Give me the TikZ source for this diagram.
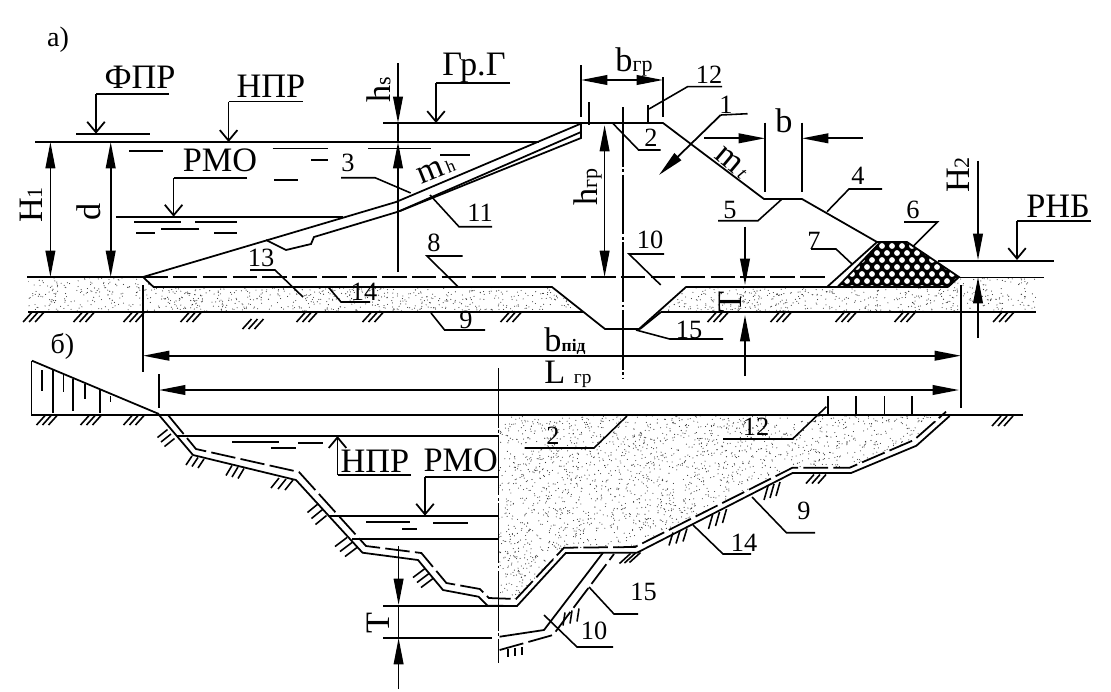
\documentclass[tikz,border=0pt]{standalone}
\usepackage{fontspec}
\setmainfont{Liberation Serif}
\usetikzlibrary{arrows.meta}
\newcommand{\bigtxt}{\fontsize{19.5}{19.5}\selectfont}
\newcommand{\numtxt}{\fontsize{15}{15}\selectfont}
\newcommand{\subtxt}{\fontsize{12.5}{12.5}\selectfont}
\tikzset{
  bodyline/.style={black,line width=1pt},
  thinline/.style={black,line width=0.9pt},
  dashline/.style={black,line width=1pt,dash pattern=on 14pt off 3pt},
  axisline/.style={black,line width=1pt,dash pattern=on 34pt off 1.5pt on 1.5pt off 1.5pt},
  hatchline/.style={black,line width=0.9pt},
  dimarrow/.style={black,line width=1pt,-{Triangle[length=15pt,width=5.5pt]}},
  dimboth/.style={black,line width=1pt,{Triangle[length=15pt,width=5.5pt]}-{Triangle[length=15pt,width=5.5pt]}},
  levelarrow/.style={black,line width=1pt,-{Straight Barb[length=6pt,width=10pt]}},
  bigtext/.style={inner sep=0pt,font=\bigtxt},
  numtext/.style={inner sep=0pt,font=\numtxt},
}
\begin{document}
\begin{tikzpicture}[x=0.02cm,y=0.02cm]
\useasboundingbox (0,0) rectangle (1111,-691);
% stipple of the soil
\begin{scope}
\clip (28,-277) -- (143,-277) -- (153.6,-287) -- (552,-287) -- (584,-312) -- (28,-312) -- cycle
      (686,-287) -- (661,-312) -- (1036,-312) -- (1036,-278) -- (959,-278) -- (948,-287) -- cycle
      (498.6,-415) -- (946,-415) -- (914,-440) -- (849.6,-468) -- (792.5,-468) -- (635,-547)
      -- (564,-548) -- (516,-599) -- (498.6,-599) -- cycle;
\pgfmathsetseed{7}
\foreach \i in {1,...,1800}
  \fill [black!80] ({28+1008*rnd},{-277-35*rnd}) circle (0.55);
\foreach \i in {1,...,3800}
  \fill [black!80] ({498+450*rnd},{-415-185*rnd}) circle (0.55);
\end{scope}
% stone toe
\begin{scope}
\clip (878.6,-243) -- (907,-243) -- (959,-277) -- (948,-287) -- (837.5,-287) -- cycle;
\fill [black] (830,-240) rectangle (965,-290);
\foreach \r in {0,...,6}
  \foreach \c in {0,...,13}
    \fill [white] ({832+\c*10+5*mod(\r,2)},{-246-\r*7}) circle (2.9);
\end{scope}
% a) section
\draw [bodyline] (27,-277) -- (143,-277);
\draw [dashline] (143,-277) -- (827,-277);
\draw [bodyline] (959,-277.5) -- (1044,-277.5);
\draw [bodyline] (28,-312) -- (584,-312);
\draw [bodyline] (661,-312) -- (1036,-312);
\draw [bodyline] (143,-277) -- (153.6,-287) -- (552,-287) -- (605,-329) -- (639,-329) -- (686,-287) -- (948,-287);
\draw [bodyline] (661,-312) -- (640,-329);
\draw [bodyline] (143,-277) -- (396,-202) -- (580,-124);
\draw [bodyline] (266,-240) -- (286,-250) -- (311,-244) -- (314,-237) -- (398,-211.7) -- (581,-132);
\draw [bodyline] (400,-211) -- (581,-138) -- (581,-123);
\draw [bodyline] (383,-123) -- (663,-123) -- (764,-199) -- (802,-199) -- (877,-242) -- (907,-242) -- (959,-277) -- (948,-287);
\draw [bodyline] (877,-242) -- (827,-287);
\draw [bodyline] (878.6,-244) -- (837.5,-287);
% water levels of a)
\draw [bodyline] (35,-142) -- (539,-142);
\draw [bodyline] (76,-133.7) -- (150,-133.7);
\draw [bodyline] (116,-216.7) -- (343,-216.7);
\draw [bodyline] (937.5,-260.7) -- (1054,-260.7);
\foreach \xa/\xb/\ya in {129/162.5/150.7, 272.5/328/148.3, 311/328/160, 274/297.5/180, 368/431/148.3, 440/470/155,
                         134/181/221.7, 195/237/221.7, 136/155/233, 161/199/229, 214/237/233}
  \draw [thinline] (\xa,-\ya) -- (\xb,-\ya);
% ground hatching
\foreach \hx/\hy/\dx/\dy/\sx/\sy in {
  33.6/317/-9/10/6/0, 84/317/-9/10/6/0, 134/317/-9/10/6/0, 191/317/-9/10/6/0, 253/324/-9/10/6/0,
  307/317/-9/10/6/0, 373/317/-9/10/6/0, 511/317/-9/10/6/0, 718/317/-9/10/6/0, 781/317/-9/10/6/0,
  846/317/-9/10/6/0, 905/317/-9/10/6/0, 1003.6/317/-9/10/6/0,
  47/420/-9/10/6/0, 91/420/-9/10/6/0, 134/420/-9/10/6/0,
  166/438/-10/8/3.5/4.5, 195/462/-6/9/6/1.5, 235/472/-6/10/6/1.5, 282/484/-8/10/7/1,
  317/514/-11/9/4/6, 346/547/-12/9/5/5, 423/578/-12/9/4/5,
  630/558/-11/10/5/-0.5, 678/537/-4/13/7/-2, 717.5/519/-4/14/7/-3, 772/491/-4/14/6/-2,
  816/479/-8/9/6/0, 1002.5/421/-9/10/6/0, 515/652/0/8/7/-1, 571/617/-2/13/7/-2}
  \foreach \k in {-1,0,1}
    \draw [hatchline] ({\hx+\k*\sx-\dx/2},{-\hy-\k*\sy+\dy/2}) -- ++(\dx,-\dy);
% b) section
\draw [bodyline] (31.4,-360.7) -- (31.4,-415) -- (1023,-415);
\draw [bodyline] (32,-360.7) -- (159,-414);
\foreach \hx/\ya/\yb in {42/370/391, 53/370/413, 63.6/375/392, 73/379/411, 85/384/399, 100/390/413, 110.7/396/402}
  \draw [thinline] (\hx,-\ya) -- (\hx,-\yb);
\draw [bodyline] (159,-415) -- (193,-455) -- (296,-480) -- (362.5,-552.7) -- (418,-560) -- (443,-590)
  -- (478.6,-596.7) -- (487.5,-605.7) -- (517,-606) -- (565.7,-553) -- (637,-552.7) -- (792.5,-473)
  -- (851,-473) -- (916.4,-445.7) -- (949.6,-416);
\draw [dashline] (168,-415) -- (196,-449) -- (299,-472) -- (366,-546) -- (421.4,-553) -- (446.4,-583)
  -- (480,-589) -- (489,-598) -- (516,-599) -- (564,-547.7) -- (635,-547) -- (792.5,-467.7)
  -- (849.6,-467.7) -- (914,-440) -- (946,-411.7);
\draw [bodyline] (499.6,-636.7) -- (544,-630) -- (603,-552.7);
\draw [dashline] (499.6,-650) -- (553,-635) -- (614,-554);
\foreach \hx in {828,856,884.6,912}
  \draw [thinline] (\hx,-396) -- (\hx,-415);
% water levels of b)
\draw [bodyline] (177,-436) -- (498.6,-436);
\draw [bodyline] (328.6,-515.7) -- (498.6,-515.7);
\draw [bodyline] (352,-539) -- (498.6,-539);
\foreach \xa/\xb/\ya in {232/278.6/441.7, 271/296/448, 298/323/442.7, 366/410/522, 402/417/529, 433/468/522.7}
  \draw [thinline] (\xa,-\ya) -- (\xb,-\ya);
% axes
\draw [axisline] (623,-107) -- (623,-378);
\draw [axisline] (498.6,-368) -- (498.6,-663);
% extension lines
\draw [thinline] (581,-65) -- (581,-117);
\draw [thinline] (589,-102) -- (589,-125);
\draw [thinline] (648,-105) -- (648,-122);
\draw [thinline] (663,-77) -- (663,-117);
\draw [thinline] (765,-122.7) -- (765,-191.7);
\draw [thinline] (802,-122.7) -- (802,-191.7);
\draw [thinline] (143,-285) -- (143,-372);
\draw [thinline] (961,-285) -- (961,-408);
\draw [thinline] (159,-374) -- (159,-408);
\draw [thinline] (383,-606) -- (517,-606);
\draw [thinline] (383,-637.7) -- (492,-637.7);
% dimensions of a)
\draw [dimboth] (50.4,-142) -- (50.4,-277);
\draw [dimboth] (110.7,-142) -- (110.7,-277);
\draw [dimarrow] (398,-63) -- (398,-123);
\draw [dimarrow] (398,-272) -- (398,-142);
\draw [thinline] (398,-123) -- (398,-142);
\draw [dimboth] (581,-80) -- (663,-80);
\draw [dimboth] (604.6,-125) -- (604.6,-277);
\draw [dimarrow] (704,-138.3) -- (765,-138.3);
\draw [dimarrow] (862.5,-138.3) -- (802,-138.3);
\draw [dimarrow] (745,-226.7) -- (745,-285);
\draw [dimarrow] (745,-376) -- (745,-315);
\draw [dimarrow] (978,-160.7) -- (978,-260);
\draw [dimarrow] (978,-338) -- (978,-277);
\draw [dimboth] (143,-355.7) -- (961,-355.7);
\draw [dimboth] (159,-390) -- (959,-390);
\draw [dimarrow] (720.7,-115) -- (659,-175);
\draw [thinline] (720.7,-115) -- (747.5,-113.7);
% dimension of b)
\draw [dimarrow] (398.6,-546) -- (398.6,-605);
\draw [dimarrow] (398.6,-689) -- (398.6,-638);
\draw [thinline] (398.6,-605) -- (398.6,-638);
% level marks
\draw [thinline] (169,-94) -- (96,-94);
\draw [levelarrow] (96,-94) -- (96,-133.7);
\draw [thinline] (302.5,-101.7) -- (228.6,-101.7);
\draw [levelarrow] (228.6,-101.7) -- (228.6,-142);
\draw [thinline] (510,-83) -- (436,-83);
\draw [levelarrow] (436,-83) -- (436,-123);
\draw [thinline] (247,-177.7) -- (173.6,-177.7);
\draw [levelarrow] (173.6,-177.7) -- (173.6,-216.7);
\draw [thinline] (1091,-220.7) -- (1017,-220.7);
\draw [levelarrow] (1017,-220.7) -- (1017,-260);
\draw [thinline] (411,-475) -- (337.5,-475);
\draw [levelarrow] (337.5,-475) -- (337.5,-436);
\draw [thinline] (498.6,-476.7) -- (425,-476.7);
\draw [levelarrow] (425,-476.7) -- (425,-515.7);
% leaders of a)
\draw [thinline] (341,-177.7) -- (375,-177.7) -- (410.7,-193);
\draw [thinline] (492,-226.7) -- (459,-226.7) -- (430,-195);
\draw [thinline] (462.5,-256) -- (427,-256) -- (458,-286.7);
\draw [thinline] (250,-270) -- (275,-270) -- (303,-297);
\draw [thinline] (328,-286.7) -- (341,-302) -- (370,-302);
\draw [thinline] (431,-313) -- (444.6,-330) -- (485,-330);
\draw [thinline] (722,-86.7) -- (687.5,-86.7) -- (649,-109);
\draw [thinline] (612.5,-123) -- (638.6,-150) -- (660.7,-150);
\draw [thinline] (882,-189) -- (849,-189) -- (827,-211.7);
\draw [thinline] (718,-220.7) -- (758,-220.7) -- (782,-199);
\draw [thinline] (904,-222) -- (937.5,-222) -- (912.5,-247);
\draw [thinline] (811,-249) -- (836,-249) -- (852,-264);
\draw [thinline] (664,-254) -- (629,-254) -- (660.7,-285);
\draw [thinline] (723,-339) -- (669.6,-339) -- (636,-330);
% leaders of b)
\draw [thinline] (524.6,-448) -- (594,-448) -- (627,-416);
\draw [thinline] (723,-439) -- (792.5,-439) -- (826.4,-406.7);
\draw [thinline] (815,-532.7) -- (786.4,-532.7) -- (752,-497);
\draw [thinline] (751,-554) -- (723,-554) -- (693,-525);
\draw [thinline] (638,-614) -- (614,-614) -- (589,-587);
\draw [thinline] (613,-647) -- (577,-647) -- (544,-615);
% texts
\node [numtext,font=\fontsize{16}{16}\selectfont] (lblA) at (58,-40) {а)};
\node [numtext,font=\fontsize{16}{16}\selectfont] (lblB) at (62.5,-346) {б)};
\node [bigtext] (fpr) at (140,-77) {ФПР};
\node [bigtext] (npr) at (271,-86) {НПР};
\node [bigtext] (grg) at (474,-68) {Гр.Г};
\node [bigtext] (rmoA) at (220,-160) {РМО};
\node [bigtext] (rnb) at (1058,-206) {РНБ};
\node [bigtext] (nprB) at (375,-461) {НПР};
\node [bigtext] (rmoB) at (460.7,-460) {РМО};
\node [bigtext,rotate=90] (hOne) at (31,-205) {H{\subtxt 1}};
\node [bigtext,rotate=90] (dOne) at (89,-212) {d};
\node [bigtext,rotate=90] (hS) at (378.6,-90) {h{\subtxt s}};
\node [bigtext,rotate=90] (hGr) at (587.5,-187) {h{\subtxt гр}};
\node [bigtext,rotate=90] (hTwo) at (958,-175) {H{\subtxt 2}};
\node [bigtext,rotate=90] (tA) at (730,-302) {Т};
\node [bigtext,rotate=90] (tB) at (378.6,-623) {Т};
\node [bigtext] (bGr) at (634,-62) {b{\subtxt гр}};
\node [bigtext] (bBerm) at (784,-121) {b};
\node [bigtext] (bPid) at (565,-341) {b{\fontsize{10}{10}\selectfont\bfseries пiд}};
\node [bigtext] (lGr) at (568,-374) {L {\fontsize{11}{11}\selectfont гр}};
\node [bigtext,rotate=22] (mH) at (436,-170) {m{\fontsize{10}{10}\selectfont\,h}};
\node [bigtext,rotate=-40] (mT) at (732,-163) {m{\fontsize{11}{11}\selectfont\itshape\,t}};
\node [numtext] (num3) at (348,-163) {3};
\node [numtext] (num11) at (480,-212.7) {11};
\node [numtext] (num8) at (434,-242.7) {8};
\node [numtext] (num13) at (261,-258) {13};
\node [numtext] (num14) at (364,-291.7) {14};
\node [numtext] (num9) at (466,-320) {9};
\node [numtext] (num12) at (709,-75) {12};
\node [numtext] (num2) at (651,-138) {2};
\node [numtext] (num1) at (726,-105) {1};
\node [numtext] (num4) at (858,-176) {4};
\node [numtext] (num5) at (730,-210) {5};
\node [numtext] (num6) at (913,-210) {6};
\node [numtext] (num7) at (814,-240.7) {7};
\node [numtext] (num10) at (650,-240) {10};
\node [numtext] (num15) at (689,-330) {15};
\node [numtext] (num2b) at (553,-436) {2};
\node [numtext] (num12b) at (756,-426.7) {12};
\node [numtext] (num9b) at (804,-510.7) {9};
\node [numtext] (num14b) at (744,-542.7) {14};
\node [numtext] (num15b) at (643.6,-591.7) {15};
\node [numtext] (num10b) at (594,-630.7) {10};
\end{tikzpicture}
\end{document}
